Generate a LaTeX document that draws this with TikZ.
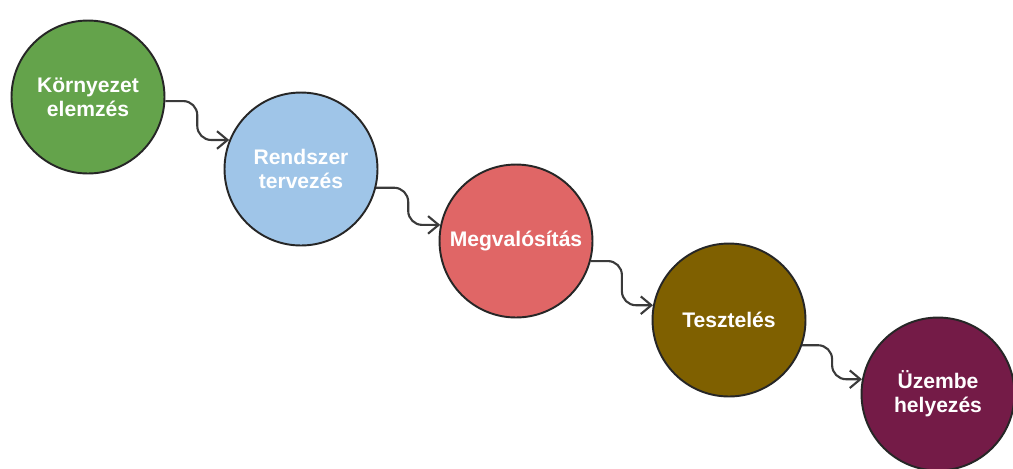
\documentclass[tikz,border=0pt]{standalone}
\usepackage{fontspec}
\setmainfont{Liberation Sans}
\usetikzlibrary{calc,arrows.meta}
\definecolor{stepgreen}{HTML}{64A34B}
\definecolor{stepblue}{HTML}{9FC5E8}
\definecolor{stepred}{HTML}{E06666}
\definecolor{stepbrown}{HTML}{7F6000}
\definecolor{steppurple}{HTML}{741B47}
\definecolor{edgegray}{HTML}{3A3A3A}
\begin{document}
\begin{tikzpicture}[x=0.02cm,y=-0.02cm,
  phase/.style={circle,draw=black!85,line width=1.1pt,minimum size=3.06cm,inner sep=0pt,
    align=center,text=white,font=\fontsize{12}{13.6}\selectfont\bfseries},
  flow/.style={draw=edgegray,line width=1.2pt,rounded corners=8pt,
    -{Straight Barb[length=6pt,width=10pt]}}]
\useasboundingbox (0,0) rectangle (1013,468);
\node[phase,fill=stepgreen]  (g) at (88,97)   {Környezet\\elemzés};
\node[phase,fill=stepblue]   (b) at (301,169) {Rendszer\\tervezés};
\node[phase,fill=stepred]    (r) at (516,241) {Megvalósítás};
\node[phase,fill=stepbrown]  (t) at (729,320) {Tesztelés};
\node[phase,fill=steppurple] (p) at (938,394) {Üzembe\\helyezés};
% bend points halfway between consecutive phases
\coordinate (m1) at ($(g.-3)!.5!(b.158)$);
\coordinate (m2) at ($(b.-14)!.5!(r.168)$);
\coordinate (m3) at ($(r.-15)!.5!(t.169)$);
\coordinate (m4) at ($(t.-19)!.5!(p.169)$);
% stepped connectors
\draw[flow] (g.-3)  -| (m1 |- b.158) -- (b.158);
\draw[flow] (b.-14) -| (m2 |- r.168) -- (r.168);
\draw[flow] (r.-15) -| (m3 |- t.169) -- (t.169);
\draw[flow] (t.-19) -| (m4 |- p.169) -- (p.169);
\end{tikzpicture}
\end{document}
